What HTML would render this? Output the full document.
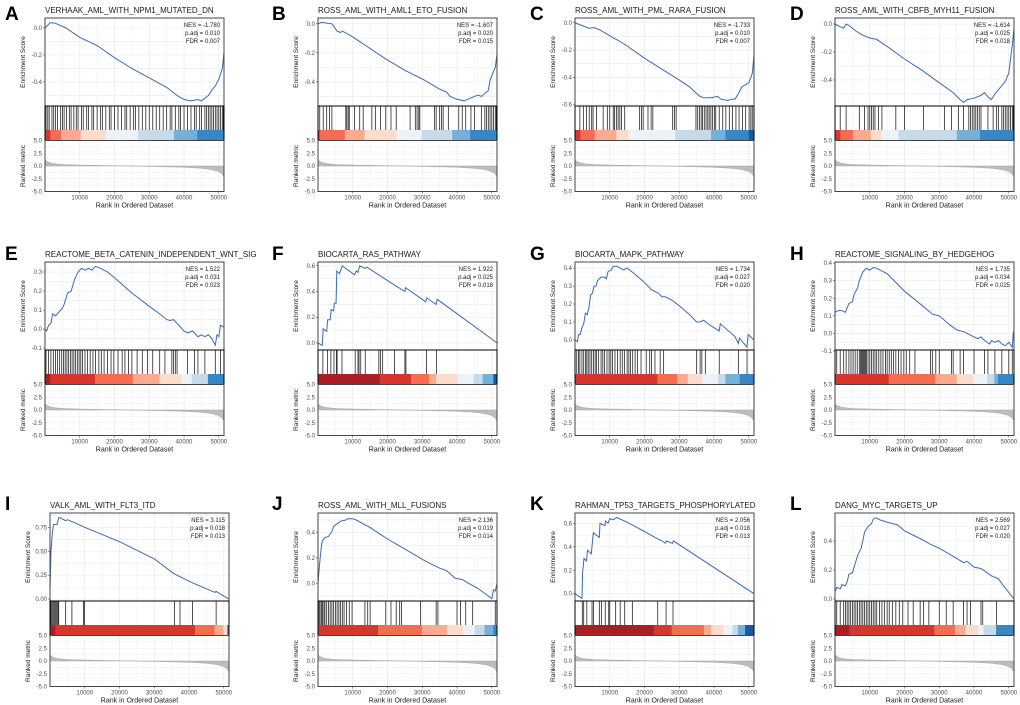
<!DOCTYPE html>
<html><head><meta charset="utf-8">
<style>
html,body{margin:0;padding:0;background:#fff;}
svg{display:block;font-family:"Liberation Sans",Arial,sans-serif;}
</style></head>
<body>
<svg id="fig" width="1020" height="705" viewBox="0 0 1020 705" xmlns="http://www.w3.org/2000/svg"></svg>
<script>
// ---- shared data ----
const xTicks = [10000, 20000, 30000, 40000, 50000];
const xTickLabels = ["10000", "20000", "30000", "40000", "50000"];
const rankTicks = [5, 2.5, 0, -2.5, -5];
const rankTickLabels = ["5.0", "2.5", "0.0", "-2.5", "-5.0"];
const metricRanks = [0, 0.5, 2, 5, 10, 20, 25, 30, 40, 45, 48, 50, 51, 51.5];
const metricValues = [1.3, 0.9, 0.5, 0.3, 0.2, 0.05, 0, -0.07, -0.25, -0.45, -0.7, -1.1, -1.6, -2.2];

const letters = ["A","B","C","D","E","F","G","H","I","J","K","L"];
const titles = ["VERHAAK_AML_WITH_NPM1_MUTATED_DN","ROSS_AML_WITH_AML1_ETO_FUSION","ROSS_AML_WITH_PML_RARA_FUSION","ROSS_AML_WITH_CBFB_MYH11_FUSION",
"REACTOME_BETA_CATENIN_INDEPENDENT_WNT_SIG","BIOCARTA_RAS_PATHWAY","BIOCARTA_MAPK_PATHWAY","REACTOME_SIGNALING_BY_HEDGEHOG",
"VALK_AML_WITH_FLT3_ITD","ROSS_AML_WITH_MLL_FUSIONS","RAHMAN_TP53_TARGETS_PHOSPHORYLATED","DANG_MYC_TARGETS_UP"];
const nesValues = ["-1.780","-1.607","-1.733","-1.614","1.522","1.922","1.734","1.735","3.115","2.136","2.056","2.569"];
const padjValues = ["0.010","0.020","0.010","0.025","0.031","0.025","0.027","0.034","0.018","0.019","0.018","0.027"];
const fdrValues = ["0.007","0.015","0.007","0.018","0.023","0.018","0.020","0.025","0.013","0.014","0.013","0.020"];
const esDomains = [[-0.578,0.074],[-0.566,0.04],[-0.61,0.035],[-0.586,0.043],[-0.11,0.353],[-0.055,0.63],[-0.056,0.434],[-0.094,0.406],[-0.02,0.9],[-0.139,0.555],[-0.062,0.688],[-0.014,0.593]];
const esTicks = [[0,-0.2,-0.4],[0,-0.2,-0.4],[0,-0.2,-0.4,-0.6],[0,-0.2,-0.4],[0.3,0.2,0.1,0,-0.1],[0.6,0.4,0.2,0],[0.4,0.3,0.2,0.1,0],[0.4,0.3,0.2,0.1,0,-0.1],[0.75,0.5,0.25,0],[0.4,0.2,0],[0.6,0.4,0.2,0],[0.4,0.2,0]];
const esTickLabels = [["0.0","-0.2","-0.4"],["0.0","-0.2","-0.4"],["0.0","-0.2","-0.4","-0.6"],["0.0","-0.2","-0.4"],["0.3","0.2","0.1","0.0","-0.1"],["0.6","0.4","0.2","0.0"],["0.4","0.3","0.2","0.1","0.0"],["0.4","0.3","0.2","0.1","0.0","-0.1"],["0.75","0.50","0.25","0.00"],["0.4","0.2","0.0"],["0.6","0.4","0.2","0.0"],["0.4","0.2","0.0"]];

// running ES: ranks (thousands) and scores
const esRanks = [
[0,1.5,3,6,10,15,20,25,30,35,38,40,42,44,45,46,47,48,49,50,51,51.5],
[0,1,4,5.5,6.5,7,10,15,20,25,30,35,37,38,40,42,44,46,47,48,49,49.5,50.5,51,51.5],
[0,2,4,5.5,7,9,11,12.5,15,20,25,30,33,35,36,37,39,41,42,44,45,46,47,48,50,51,51.5],
[0,1.5,2.5,3.2,4,6,8,10,12,15,20,25,30,34,36,37,38,40,42,43,44,45,46,47,48,49,50,50.5,51,51.5],
[0,0.5,1,1.7,2.2,3,4,5,5.5,6.5,7.5,8.5,9.5,10.5,11.5,12.5,13.5,14.5,16,18,20,25,30,33,35,36,37,39,40,41,42.5,44,45,46,47,48,49,49.5,50,50.5,51.5],
[0,1.2,1.5,2.5,2.8,3.5,3.8,4.5,4.7,5.2,5.4,6.2,7,10.5,11,11.5,12,13.5,14,22,25,25.2,31,31.3,34,34.3,51.5],
[0,0.7,1,1.5,2,2.5,3,3.5,4,4.5,5,5.5,6,6.5,7.5,8.5,9,9.5,10.5,11,12,13,14,15,17,20,22,24,25,26,28,30,33,35,36,37,39,41.5,41.8,46,47,47.3,49.5,49.8,51.5],
[0,1,2,3,4,5,5.5,6.5,7,8,9,10,11,12,13,15,20,25,28,30,33,35,37,39,41,42,43,44.5,45,46,47,48,49,50,51,51.3],
[0,0.3,0.7,1,2,2.5,3,4.5,5,7,9.5,10,20,30,35.5,37,41,47.5,47.8,51.5],
[0,0.3,0.7,1,1.3,2,3,3.5,4,4.5,5.5,6.5,8,8.5,10,11,13,15,20,25,30,32,35,37,39.5,41.5,44,46,50,50.5,51,51.5],
[0,2,2.2,2.6,3.3,3.6,4.7,5,5.3,7,7.2,8.6,8.8,9.5,10,11,12,15,20,23,25,26,26.3,28,28.3,51.5],
[0,0.5,1.5,2,3,3.5,4,5,5.5,6.5,7.5,8,8.5,9.5,10.5,11,11.8,13,15,18,20,25,28,30,35,37,38,40,42,45,47,48.5,51.5]];
const esScores = [
[0,0.04,0.035,0,-0.07,-0.13,-0.22,-0.3,-0.37,-0.44,-0.5,-0.53,-0.54,-0.53,-0.54,-0.52,-0.5,-0.46,-0.43,-0.38,-0.3,-0.18],
[0,0.01,0,-0.05,-0.06,-0.05,-0.09,-0.17,-0.25,-0.32,-0.38,-0.45,-0.47,-0.5,-0.52,-0.53,-0.51,-0.49,-0.5,-0.48,-0.46,-0.39,-0.33,-0.3,-0.21],
[0,-0.02,-0.04,-0.035,-0.05,-0.08,-0.11,-0.13,-0.17,-0.26,-0.34,-0.42,-0.47,-0.52,-0.54,-0.55,-0.55,-0.54,-0.56,-0.57,-0.56,-0.56,-0.52,-0.47,-0.44,-0.37,-0.24],
[0,-0.02,-0.03,0,-0.01,-0.05,-0.08,-0.1,-0.11,-0.16,-0.25,-0.33,-0.42,-0.49,-0.54,-0.56,-0.54,-0.53,-0.51,-0.49,-0.52,-0.54,-0.5,-0.47,-0.44,-0.41,-0.35,-0.25,-0.15,-0.03],
[0,-0.01,0.02,0.03,0.08,0.07,0.09,0.11,0.13,0.19,0.2,0.26,0.3,0.32,0.31,0.32,0.31,0.33,0.32,0.3,0.27,0.19,0.12,0.08,0.05,0.045,0.05,0.01,-0.01,-0.02,-0.01,-0.04,-0.03,-0.04,-0.03,-0.05,-0.085,-0.03,-0.04,0.02,0.01],
[0,-0.02,0.11,0.09,0.18,0.18,0.26,0.25,0.31,0.31,0.56,0.54,0.6,0.53,0.56,0.55,0.6,0.58,0.59,0.45,0.4,0.43,0.32,0.35,0.3,0.34,0],
[0,-0.01,0.03,0.03,0.07,0.09,0.15,0.14,0.18,0.25,0.26,0.3,0.3,0.33,0.35,0.35,0.34,0.38,0.39,0.41,0.41,0.4,0.39,0.4,0.37,0.32,0.28,0.26,0.24,0.24,0.22,0.19,0.14,0.1,0.1,0.11,0.08,0.05,0.09,0.02,-0.02,0.01,-0.04,0.03,0],
[0.12,0.13,0.13,0.12,0.17,0.18,0.22,0.26,0.3,0.35,0.37,0.36,0.375,0.37,0.36,0.34,0.24,0.16,0.11,0.1,0.05,0.02,0.01,-0.01,-0.03,-0.02,-0.04,-0.06,-0.04,-0.05,-0.04,-0.06,-0.07,-0.05,-0.08,0.01],
[0.1,0.5,0.7,0.78,0.78,0.85,0.85,0.82,0.83,0.8,0.76,0.75,0.6,0.42,0.27,0.24,0.17,0.07,0.08,0],
[0,0.1,0.22,0.3,0.34,0.36,0.37,0.39,0.41,0.45,0.47,0.49,0.5,0.51,0.51,0.5,0.47,0.44,0.35,0.27,0.19,0.16,0.12,0.1,0.04,0.03,-0.01,-0.04,-0.12,-0.05,-0.06,0],
[0,-0.04,0.18,0.3,0.28,0.37,0.34,0.44,0.52,0.48,0.6,0.58,0.62,0.6,0.64,0.63,0.65,0.61,0.53,0.48,0.45,0.43,0.45,0.43,0.45,0],
[0.05,0.08,0.07,0.1,0.09,0.12,0.17,0.18,0.22,0.3,0.35,0.4,0.46,0.5,0.52,0.55,0.56,0.545,0.53,0.51,0.47,0.41,0.37,0.35,0.28,0.25,0.26,0.22,0.21,0.16,0.14,0.09,0]];

// gene set hit ranks (thousands)
const hitRanks = [
[0.3,0.8,1.2,2,2.5,3,3.6,4.5,5,5.5,6.2,7,7.5,8.3,9,9.5,10.5,11,12,12.5,13.5,14,15,16,16.5,17.5,18.5,19,20,21,22,23,23.5,24.5,25.5,26,27,28,29,30,31,32,33,34,35,36,36.5,37.5,38.5,39,40,41,42,43,43.5,44.5,45,46,46.5,47,47.5,48,48.5,49,49.5,50,50.5,51,51.3],
[0.5,1.5,2.5,3.3,4,8,8.3,8.7,9,10.5,12,13,15.5,16.5,18,19.5,21,22.5,26.5,28,28.5,29,29.3,33.5,34,35,35.5,36,37.5,40.5,41.5,42.5,44,45,47,48,48.5,49,49.5,50,50.5,51,51.3],
[1.4,2.4,3.3,4.1,4.8,5.2,6.2,8.1,9.3,10,11,11.4,11.9,12.4,12.9,13.4,14.3,18.6,19.1,19.6,21,21.9,22.4,28.1,28.6,29.1,34.8,35.3,35.8,36.3,36.7,37.2,37.7,38.2,38.6,39.1,39.6,40.1,40.5,41.5,42.5,43.4,44.4,45.3,46.3,47.2,48.2,49.1,50.1,50.6,51],
[1.5,3.2,7,8.5,9.5,10,10.5,11,11.5,12.5,13.5,17.5,20,25.5,31.5,33.5,35.5,37,38.5,39,39.5,40,40.5,41,41.5,42,44,45.5,46.5,47,48,48.5,49,49.5,50,50.5,51,51.3],
[0.3,1,1.7,2.4,3,3.6,4.2,4.8,5.3,5.8,6.3,6.8,7.3,7.8,8.3,8.8,9.3,9.8,10.3,10.8,11.5,12.2,13,13.8,14.5,15.5,16.2,17,18,19,19.8,21,22.2,23,24,25,26.5,28,29.5,31,33,34.5,36.5,37,37.5,38,41,43,44,46,49,50.5],
[1.4,2.7,3.7,4.6,5.3,5.5,6.9,10.7,11.5,11.8,12.3,13.6,17.5,18,18.6,22,25,25.3,31.2,34.1],
[0.5,1,1.4,2,2.5,3,3.4,3.8,4.3,4.8,5.3,5.8,6.2,6.8,7.5,8,8.5,9.2,9.8,10.3,10.8,11.5,12.2,13,13.6,14.2,15,15.5,16,16.6,17.3,18,19,20.5,21.5,22,23,24.5,25.5,35,36,36.5,37.5,41.5,47,49.5],
[0.5,1.5,2.5,3.2,4,4.6,5.2,5.8,6.4,7,7.3,7.6,7.9,8.2,8.5,8.8,9.1,9.5,10,10.5,11,11.5,12,12.6,13.2,13.8,14.5,15,15.6,16.2,16.8,17.5,18.3,19,19.8,20.5,21.5,23,27.5,28,29,30,33.5,34,36,37,40,43,44,46,48,50,51],
[0.2,0.5,0.8,1.1,1.4,1.7,2,2.3,2.5,4.5,6.3,9.6,9.9,35.8,37.4,41,47.8],
[0.3,0.6,1,1.3,1.7,2,2.5,3,3.5,4,4.5,5,5.5,6,6.5,7,7.5,8.2,9,9.8,13.5,14.3,15,19.5,21,22.5,23.5,24,29.5,34,34.5,40,41,42.5,44.5,51],
[2.1,2.5,3.4,4.9,5.3,7,7.6,8.7,9.7,10,11.7,13,14.3,16.5,23.8,26.2,28.2],
[0.5,1.5,2.5,3,3.5,4,4.5,5,5.5,6,6.5,7,7.5,8,8.5,9,9.5,10,10.5,11,11.5,12,12.8,13.5,14.2,15,15.6,16.5,17.5,18.5,19.5,21,22.5,24.5,25.5,27,30,32,34,37,38,39,42,42.5,46.5]];

// colour band: segment end (fraction of ranked list) and colour key
const bandEnds = [
[0.03,0.09,0.2,0.34,0.52,0.72,0.85,1],
[0.01,0.15,0.26,0.44,0.58,0.75,0.85,1],
[0.03,0.11,0.23,0.3,0.56,0.76,0.84,0.97,1],
[0.03,0.1,0.2,0.26,0.355,0.68,0.81,1],
[0.03,0.28,0.49,0.64,0.76,0.82,0.91,1],
[0.345,0.52,0.62,0.66,0.78,0.87,0.92,0.98,1],
[0.46,0.57,0.63,0.71,0.8,0.84,0.92,1],
[0.3,0.56,0.68,0.77,0.85,0.89,0.91,1],
[0.03,0.81,0.92,0.97,0.99,1],
[0.335,0.58,0.72,0.81,0.875,0.93,0.98,1],
[0.44,0.54,0.72,0.76,0.83,0.88,0.91,0.95,1],
[0.08,0.555,0.67,0.73,0.8,0.83,0.9,1]];
const bandKeys = [
["r2","r3","r4","r5","w","b1","b2","b3"],
["r2","r3","r4","r5","w","b1","b2","b3"],
["r2","r3","r4","r5","w","b1","b2","b3","b4"],
["r2","r3","r4","r5","w","b1","b2","b3"],
["r1","r2","r3","r4","r5","w","b1","b3"],
["r1","r2","r3","r4","r5","w","b1","b2","b4"],
["r2","r3","r4","r5","w","b1","b2","b3"],
["r2","r3","r4","r5","w","b1","b2","b3"],
["r1","r2","r3","r4","r5","b3"],
["r2","r3","r4","r5","w","b1","b2","b3"],
["r1","r2","r3","r4","r5","w","b1","b2","b4"],
["r1","r2","r3","r4","r5","w","b1","b3"]];
const palette = {r1:"#a91f24",r2:"#d7352d",r3:"#f46d50",r4:"#f8ab8f",r5:"#fcdccd",w:"#edf2f9",b1:"#c5dbec",b2:"#74b1da",b3:"#3a86c1",b4:"#1859a0"};

// ---- layout ----
const colLeft = [45,318,575,835];
const rowTop = [18,262,513];
const letterBase = [20,260,510];
const letterX = [5,272,530,790];
const W = 179, ESH = 88, HITH = 24, BANDH = 10.5, RANKH = 51;
const XMAX = 51.5;
const NS = "http://www.w3.org/2000/svg";
const svg = document.getElementById("fig");
function mk(tag, attrs, parent){ const e=document.createElementNS(NS,tag); for(const k in attrs) e.setAttribute(k,attrs[k]); (parent||svg).appendChild(e); return e; }
function txt(s, attrs, parent){ const e=mk("text",attrs,parent); e.textContent=s; return e; }

for(let p=0;p<12;p++){
  const row=Math.floor(p/4), col=p%4;
  const L = (p===8)?50:colLeft[col];
  const T = rowTop[row];
  const g = mk("g",{});
  
  
  const xs = r => L + r/XMAX*W;
  const [dmin,dmax]=esDomains[p];
  const ys = v => T + (dmax-v)/(dmax-dmin)*ESH;
  const hitTop = T+ESH, bandTop = T+ESH+HITH, rankTop = bandTop+BANDH, rankBot = rankTop+RANKH;
  const ry = v => rankTop + (5-v)/10*RANKH;

  const lab = txt(letters[p],{x:letterX[col],y:letterBase[row],"font-size":19,"font-weight":"bold",fill:"#000"},g);
  
  
  const ti = txt(titles[p],{x:L,y:T-5,"font-size":8,fill:"#1a1a1a"},g);
  
  

  const grid = mk("g",{stroke:"#ebebeb","stroke-width":0.6},g);
  for(let k=5;k<=50;k+=5){ mk("line",{x1:xs(k),x2:xs(k),y1:T,y2:bandTop,"stroke-width":(k%10===0)?0.8:0.4},grid); mk("line",{x1:xs(k),x2:xs(k),y1:rankTop,y2:rankBot,"stroke-width":(k%10===0)?0.8:0.4},grid); }
  const et = esTicks[p];
  const step = et[0]-et[1];
  for(let v=et[et.length-1]-2*step; v<=dmax+step; v+=step/2){ const y=ys(v); if(y>T&&y<hitTop) mk("line",{x1:L,x2:L+W,y1:y,y2:y},grid); }
  for(let v=-5; v<=5; v+=1.25){ mk("line",{x1:L,x2:L+W,y1:ry(v),y2:ry(v)},grid); }

  let d="";
  for(let i=0;i<esRanks[p].length;i++) d += (i?"L":"M")+xs(esRanks[p][i]).toFixed(1)+","+ys(esScores[p][i]).toFixed(1);
  const es = mk("path",{d:d,fill:"none",stroke:"#3b6bb0","stroke-width":1},g);
  
  

  for(let i=0;i<et.length;i++){ const y=ys(et[i]); txt(esTickLabels[p][i],{x:L-3,y:y+2,"font-size":6,fill:"#4d4d4d","text-anchor":"end"},g); mk("line",{x1:L-2,x2:L,y1:y,y2:y,stroke:"#333","stroke-width":0.5},g); }
  const yt = txt("Enrichment Score",{x:0,y:0,"font-size":6.5,fill:"#1a1a1a","text-anchor":"middle",transform:`translate(${L-20},${T+ESH/2}) rotate(-90)`},g);
  
  

  const sx = L+W-4;
  txt("NES = "+nesValues[p],{x:sx,y:T+9,"font-size":6,fill:"#1a1a1a","text-anchor":"end"},g);
  txt("p.adj = "+padjValues[p],{x:sx,y:T+17,"font-size":6,fill:"#1a1a1a","text-anchor":"end"},g);
  txt("FDR = "+fdrValues[p],{x:sx,y:T+25,"font-size":6,fill:"#1a1a1a","text-anchor":"end"},g);

  const hg = mk("g",{stroke:"#000","stroke-width":0.8,"stroke-opacity":0.85},g);
  
  
  for(const h of hitRanks[p]) mk("line",{x1:xs(h),x2:xs(h),y1:hitTop,y2:bandTop},hg);

  let prev=0;
  for(let i=0;i<bandEnds[p].length;i++){ const e=bandEnds[p][i]; const r=mk("rect",{x:L+prev*W,y:bandTop,width:(e-prev)*W+0.3,height:BANDH,fill:palette[bandKeys[p][i]]},g);   prev=e; }

  mk("rect",{x:L,y:T,width:W,height:ESH,fill:"none",stroke:"#444","stroke-width":1},g);
  mk("rect",{x:L,y:hitTop,width:W,height:HITH+BANDH,fill:"none",stroke:"#000","stroke-width":1},g);

  let md="M"+xs(0)+","+ry(0);
  for(let i=0;i<metricRanks.length;i++) md+="L"+xs(metricRanks[i]).toFixed(1)+","+ry(metricValues[i]).toFixed(1);
  md+="L"+xs(XMAX)+","+ry(0)+"Z";
  const ma = mk("path",{d:md,fill:"#bdbdbd",stroke:"#9a9a9a","stroke-width":0.4},g);
  
  
  mk("rect",{x:L,y:rankTop,width:W,height:RANKH,fill:"none",stroke:"#444","stroke-width":1},g);
  for(let i=0;i<rankTicks.length;i++){ const y=ry(rankTicks[i]); txt(rankTickLabels[i],{x:L-3,y:y+2,"font-size":6,fill:"#4d4d4d","text-anchor":"end"},g); }
  txt("Ranked metric",{x:0,y:0,"font-size":6.5,fill:"#1a1a1a","text-anchor":"middle",transform:`translate(${L-20},${rankTop+RANKH/2}) rotate(-90)`},g);
  for(let i=0;i<xTicks.length;i++){ const x=xs(xTicks[i]/1000); mk("line",{x1:x,x2:x,y1:rankBot,y2:rankBot+2,stroke:"#333","stroke-width":0.5},g); txt(xTickLabels[i],{x:x,y:rankBot+8,"font-size":6,fill:"#4d4d4d","text-anchor":"middle"},g); }
  const xt = txt("Rank in Ordered Dataset",{x:L+W/2,y:rankBot+16,"font-size":7,fill:"#1a1a1a","text-anchor":"middle"},g);
  
  
}
</script>
</body></html>
